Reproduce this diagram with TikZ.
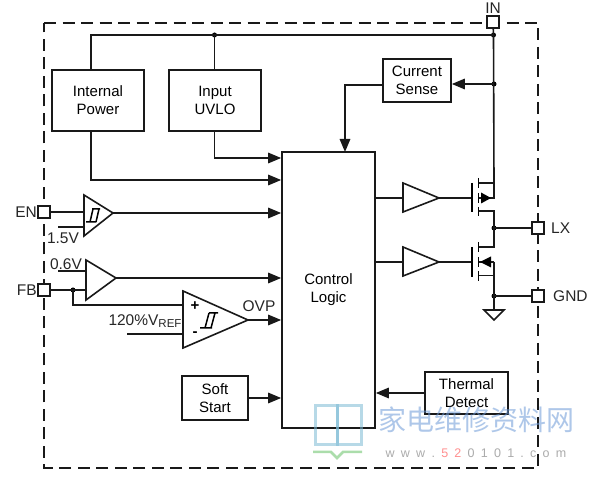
\documentclass[tikz,border=0pt]{standalone}
\usepackage{fontspec}
\setmainfont{Liberation Sans}
\newfontfamily\cjk{Noto Sans CJK SC}
\usetikzlibrary{arrows.meta}
\tikzset{
  x=1pt,y=-1pt,
  wire/.style={line width=1.6pt,black!90},
  sig/.style={wire,-{Triangle[length=13pt,width=10.5pt]}},
  block/.style={draw=black!90,line width=1.7pt,fill=white,inner sep=0pt,align=center,font=\fontsize{15}{18}\selectfont},
  pin/.style={draw=black!90,line width=1.6pt,fill=white,minimum size=12pt,inner sep=0pt},
  lbl/.style={inner sep=0pt,font=\fontsize{15.5}{18}\selectfont,text=black!85},
  dot/.style={circle,fill=black,inner sep=0pt,minimum size=5pt},
  amp/.style={wire,fill=white,line join=miter},
}
\newcommand{\bx}[6]{\node[block,minimum width=#4 pt,minimum height=#5 pt] (#1) at (#2,#3) {#6};}
\begin{document}
\begin{tikzpicture}
\useasboundingbox (0,0) rectangle (590,478);
\fill[white] (0,0) rectangle (590,478);
% package outline
\draw[line width=1.6pt,black!90,dash pattern=on 12pt off 6.5pt] (44,23) -- (538,23) -- (538,468) -- (44,468) -- cycle;
% blocks
\bx{ip}{98}{100.5}{92}{61}{Internal\\Power}
\bx{uvlo}{215}{100.5}{92}{61}{Input\\UVLO}
\bx{cs}{417}{80.5}{68}{43}{Current\\Sense}
\bx{cl}{328.5}{290}{93}{276}{Control\\Logic}
\bx{ss}{215}{398}{66}{44}{Soft\\Start}
\bx{td}{466.5}{393}{83}{42}{Thermal\\Detect}
% pins
\node[pin] (in) at (493,22) {};
\node[pin] (en) at (44,212) {};
\node[pin] (fb) at (44,290) {};
\node[pin] (lx) at (538,228) {};
\node[pin] (gnd) at (538,296) {};
\node[lbl] (inl) at (493,8) {IN};
\node[lbl,anchor=east] (enl) at (37,212) {EN};
\node[lbl,anchor=east] (fbl) at (37,290) {FB};
\node[lbl,anchor=west] (lxl) at (551,228) {LX};
\node[lbl,anchor=west] (gndl) at (553,296) {GND};
% junctions
\node[dot] (jin) at (493.5,35) {};
\node[dot] (jtop) at (214.5,35) {};
\node[dot] (jcs) at (494,84) {};
\node[dot] (jlx) at (494,228) {};
\node[dot] (jgnd) at (494,296) {};
\node[dot] (jfb) at (73,290) {};
% top rail
\draw[wire] (in) -- (jin.center) -- (91,35) -- (91,70);
\draw[wire] (jtop.center) -- (jtop.center |- uvlo.north);
\draw[sig] (91,131) -- (91,180) -- (cl.west |- 0,180);
\draw[sig] (uvlo.south -| jtop) -- (214.5,158) -- (cl.west |- 0,158);
% current sense
\draw[sig] (jcs.center) -- (cs.east |- jcs);
\draw[sig] (cs.west |- 0,85) -- (345,85) -- (345,152);
\draw[sig] (td.west) -- (cl.east |- td);
\draw[sig] (ss.east) -- (cl.west |- ss);
% EN comparator
\coordinate (c1tip) at (113,213);
\draw[wire] (en) -- (84,212);
\draw[wire] (58,227) -- (84,227);
\draw[amp] (84,195) -- (113,213) -- (84,236) -- cycle;
\draw[line width=1.5pt] (86,222) -- (96,222) (92,209) -- (100,209) (90,222) -- (93,209) (96,222) -- (99,209);
\draw[sig] (c1tip) -- (cl.west |- c1tip);
\node[lbl] (v15) at (63,238) {1.5V};
% FB amp
\coordinate (c2tip) at (116,278);
\draw[wire] (fb) -- (86,290);
\draw[wire] (58,271) -- (86,271);
\draw[wire] (jfb.center) -- (73,305) -- (183,305);
\draw[wire] (127,334) -- (183,334);
\draw[amp] (86,260) -- (116,278) -- (86,300) -- cycle;
\draw[sig] (c2tip) -- (cl.west |- c2tip);
\node[lbl] (v06) at (66,264) {0.6V};
% OVP comparator
\coordinate (c3tip) at (248,320);
\draw[amp] (183,291) -- (248,320) -- (183,348) -- cycle;
\draw[line width=1.5pt] (200,328) -- (212,328) (209,313) -- (218,313) (205,328) -- (209,313) (211,328) -- (215,313);
\node[inner sep=0pt,font=\bfseries\fontsize{15}{15}\selectfont] (plus) at (195,306) {+};
\node[inner sep=0pt,font=\bfseries\fontsize{15}{15}\selectfont] (minus) at (195,334) {-};
\draw[sig] (c3tip) -- (cl.west |- c3tip);
\node[lbl] (ovp) at (259,306) {OVP};
\node[lbl] (vref) at (145,321) {120\%V\raisebox{-2pt}{\fontsize{11.5}{12}\selectfont REF}};
% drivers and MOSFETs
\coordinate (d1tip) at (439,198);
\coordinate (d2tip) at (439,262);
\draw[wire] (cl.east |- d1tip) -- (403,198);
\draw[wire] (cl.east |- d2tip) -- (403,262);
\draw[amp] (403,183) -- (439,198) -- (403,212) -- cycle;
\draw[amp] (403,247) -- (439,262) -- (403,276) -- cycle;
\draw[wire] (d1tip) -- (472,198);
\draw[wire] (d2tip) -- (472,262);
\draw[line width=1.8pt] (472,183) -- (472,212) (478.5,178) -- (478.5,188) (478.5,193) -- (478.5,203) (478.5,207) -- (478.5,216);
\draw[line width=1.8pt] (472,247) -- (472,277) (478.5,242) -- (478.5,252) (478.5,257) -- (478.5,267) (478.5,271) -- (478.5,281);
\draw[wire] (jin.center) -- (494,183) -- (479,183);
\draw[wire] (479,198) -- (494,198) -- (494,183);
\fill (481,192.5) -- (491,198) -- (481,203.5) -- cycle;
\draw[wire] (479,211) -- (494,211) -- (494,247) -- (479,247);
\draw[wire] (479,262) -- (494,262);
\fill (480,262) -- (491,256.5) -- (491,267.5) -- cycle;
\draw[wire] (479,275.5) -- (494,275.5);
\draw[wire] (494,262) -- (494,310);
\draw[wire] (jlx.center) -- (lx);
\draw[wire] (jgnd.center) -- (gnd);
\draw[wire,line join=miter] (484,310) -- (504,310) -- (494,320) -- cycle;
% watermark over everything
\begin{scope}[opacity=.55]
\draw[draw=cyan!45!teal!60,line width=3pt] (315,406) rectangle (337,445);
\draw[draw=cyan!45!teal!60,line width=3pt] (337,406) rectangle (361,445);
\draw[draw=green!60!black!60,line width=2.5pt] (313,452) -- (331,452) -- (337,458) -- (343,452) -- (362,452);
\node[inner sep=0pt,text=cyan!50!blue!60,font=\cjk\fontsize{28}{30}\selectfont] (wm1) at (476,420) {家电维修资料网};
\node[inner sep=0pt,text=black!60,font=\fontsize{12.5}{14}\selectfont] (wm2) at (476,453) {w\,\,\,w\,\,\,w\,\,\,.\,\,\,\textcolor{red!80}{5\,\,\,2}\,\,\,0\,\,\,1\,\,\,0\,\,\,1\,\,\,.\,\,\,c\,\,\,o\,\,\,m};
\end{scope}
\end{tikzpicture}
\end{document}
